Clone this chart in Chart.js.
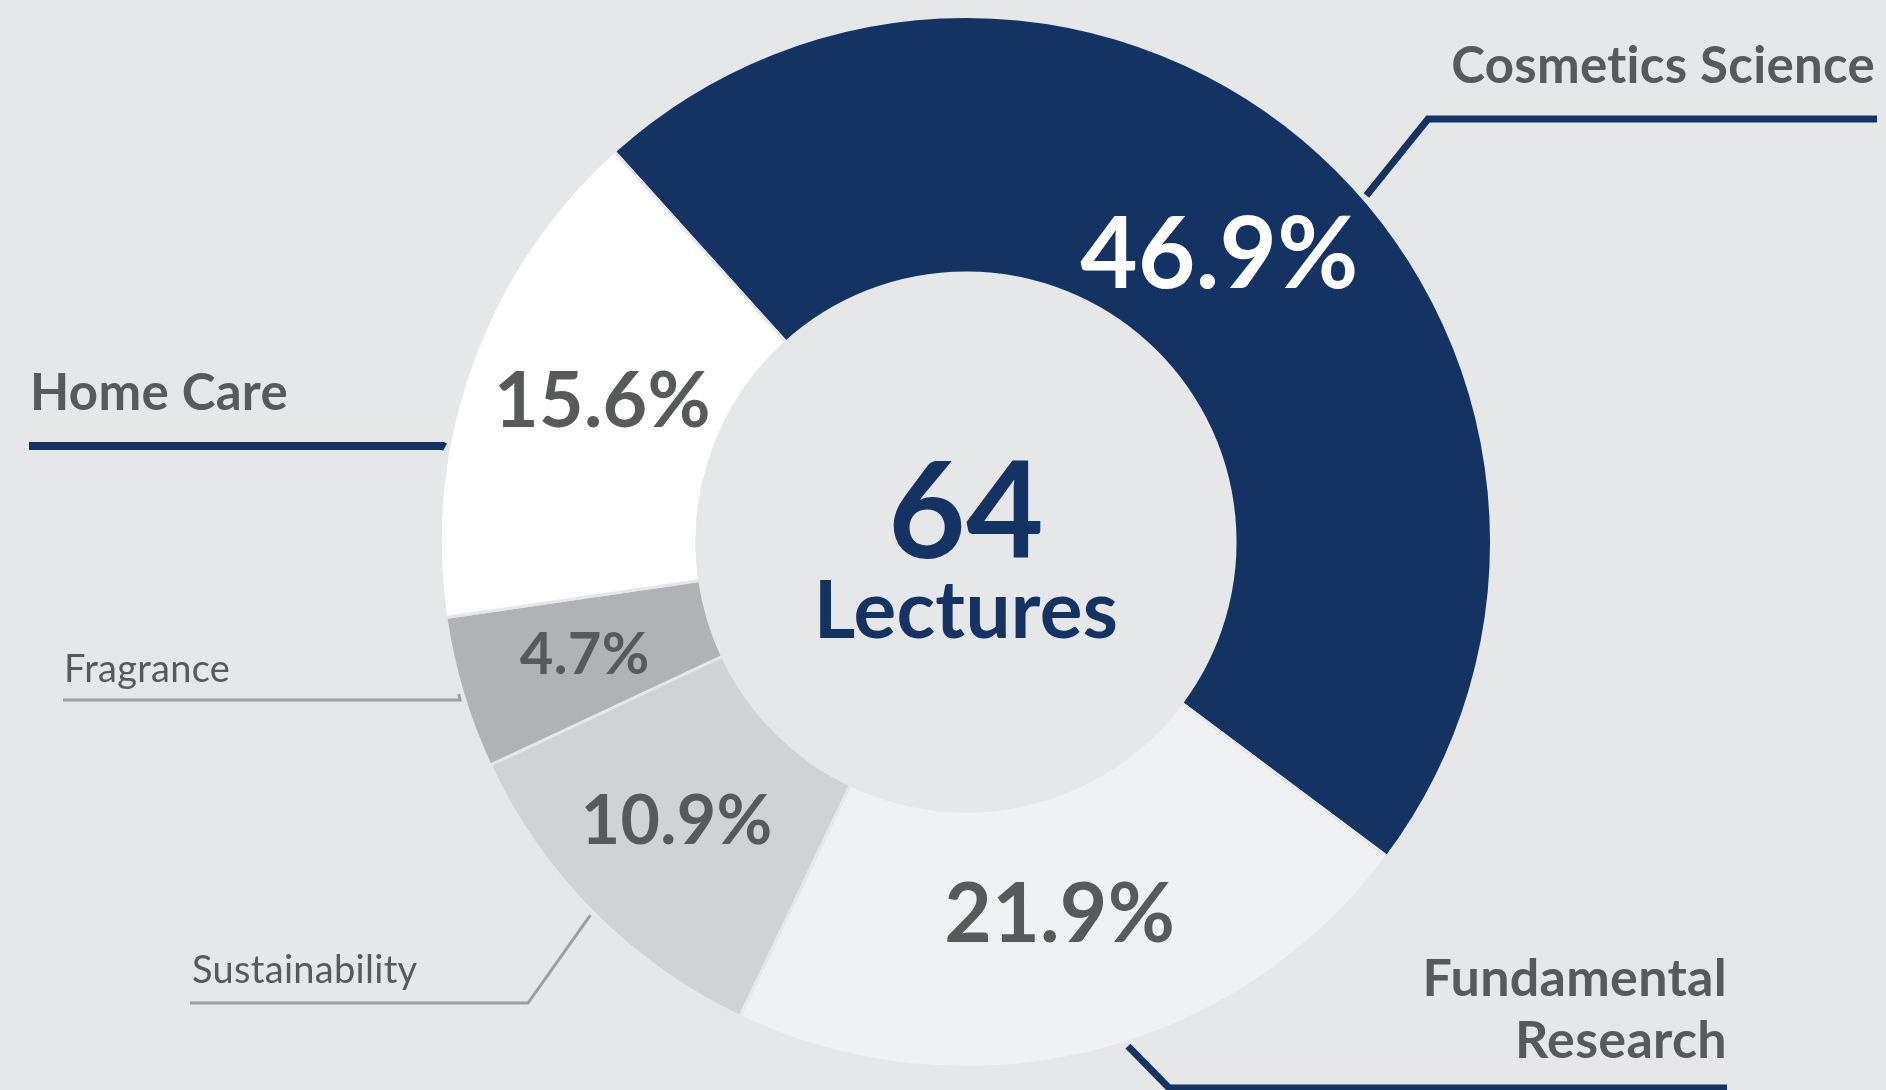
<!DOCTYPE html>
<html>
<head>
<meta charset="utf-8">
<title>Lectures by topic</title>
<script src="https://cdn.jsdelivr.net/npm/chart.js@4.4.1/dist/chart.umd.min.js"></script>
<style>
  html, body { margin: 0; padding: 0; background: #e6e7e9; }
  #wrap { width: 1886px; height: 1090px; }
</style>
</head>
<body>
<div id="wrap"><canvas id="lectureChart" width="1886" height="1090"></canvas></div>
<script>
// data
const topics = ['Cosmetics Science', ['Fundamental', 'Research'], 'Sustainability', 'Fragrance', 'Home Care'];
const lectureCounts = [30, 14, 7, 3, 10];
const centerUnit = 'Lectures';

// styles
const NAVY = '#143362';
const TEXT_GRAY = '#58595b';
const BG = '#e6e7e9';
const FONT = 'Lato, "Noto Sans", sans-serif';
const sliceColors = [NAVY, '#f0f1f3', '#d1d2d4', '#b1b2b5', '#ffffff'];
const pctColors = ['#ffffff', TEXT_GRAY, TEXT_GRAY, TEXT_GRAY, TEXT_GRAY];
const pctFontSizes = [99, 82, 68, 58, 77];
const pctNudge = [[-10, -2], [0, -10], [-12, 1], [-7, -1], [4, -11]];

// leader lines: where on the slice edge they start, the elbow, and where the text sits
const callouts = [
  { at: 0.54, elbow: [1428, 119], endX: 1877, color: NAVY, width: 7, textX: 1875, baselines: [83], align: 'right', weight: 700, size: 51 },
  { at: 0.45, elbow: [1169, 1088], endX: 1727, color: NAVY, width: 7, textX: 1727, baselines: [996, 1058], align: 'right', weight: 700, size: 52 },
  { at: 0.5, elbow: [528, 1003], endX: 190, color: '#9d9ea0', width: 3, textX: 192, baselines: [983], align: 'left', weight: 400, size: 38 },
  { at: 0.5, elbow: [460, 700], endX: 63, color: '#9d9ea0', width: 3, textX: 64, baselines: [682], align: 'left', weight: 400, size: 38 },
  { at: 0.33, elbow: [443, 446], endX: 29, color: NAVY, width: 8, textX: 30, baselines: [410], align: 'left', weight: 700, size: 51 }
];

const total = lectureCounts.reduce((a, b) => a + b, 0);

const labelPlugin = {
  id: 'labelPlugin',
  afterDatasetsDraw(chart) {
    const ctx = chart.ctx;
    const meta = chart.getDatasetMeta(0);
    ctx.save();
    ctx.letterSpacing = '0.3px'; // keeps Lato from joining "ti"

    meta.data.forEach((arc, i) => {
      const p = arc.getProps(['x', 'y', 'startAngle', 'endAngle', 'innerRadius', 'outerRadius'], true);

      // percentage inside the slice
      const mid = (p.startAngle + p.endAngle) / 2;
      const r = p.innerRadius + (p.outerRadius - p.innerRadius) * 0.475;
      const cx = p.x + Math.cos(mid) * r + pctNudge[i][0];
      const cy = p.y + Math.sin(mid) * r + pctNudge[i][1];
      const pct = (lectureCounts[i] / total * 100).toFixed(1) + '%';
      ctx.font = `700 ${pctFontSizes[i]}px ${FONT}`;
      ctx.fillStyle = pctColors[i];
      ctx.textAlign = 'center';
      ctx.textBaseline = 'alphabetic';
      const m = ctx.measureText(pct);
      ctx.fillText(pct, cx, cy + m.actualBoundingBoxAscent / 2);

      // leader line and topic name
      const c = callouts[i];
      const a = p.startAngle + (p.endAngle - p.startAngle) * c.at;
      const ar = p.outerRadius + 4;
      ctx.beginPath();
      ctx.moveTo(p.x + Math.cos(a) * ar, p.y + Math.sin(a) * ar);
      ctx.lineTo(c.elbow[0], c.elbow[1]);
      ctx.lineTo(c.endX, c.elbow[1]);
      ctx.strokeStyle = c.color;
      ctx.lineWidth = c.width;
      ctx.lineJoin = 'miter';
      ctx.stroke();

      const lines = [].concat(chart.data.labels[i]);
      ctx.font = `${c.weight} ${c.size}px ${FONT}`;
      ctx.fillStyle = TEXT_GRAY;
      ctx.textAlign = c.align;
      lines.forEach((ln, k) => ctx.fillText(ln, c.textX, c.baselines[k]));
    });

    // centre total
    const centre = meta.data[0];
    ctx.fillStyle = NAVY;
    ctx.textAlign = 'center';
    ctx.font = `700 134px ${FONT}`;
    ctx.fillText(String(total), centre.x, 558);
    ctx.font = `700 80px ${FONT}`;
    ctx.fillText(centerUnit, centre.x, 638);

    ctx.restore();
  }
};

new Chart(document.getElementById('lectureChart'), {
  type: 'doughnut',
  data: {
    labels: topics,
    datasets: [{
      data: lectureCounts,
      backgroundColor: sliceColors,
      borderColor: BG,
      borderWidth: 3,
      hoverOffset: 0
    }]
  },
  options: {
    responsive: false,
    animation: false,
    rotation: -42,
    cutout: '51.2%',
    layout: { padding: { left: 46, right: 0, top: 15, bottom: 21 } },
    plugins: {
      legend: { display: false },
      tooltip: { enabled: false }
    },
    events: []
  },
  plugins: [labelPlugin]
});
</script>
</body>
</html>
